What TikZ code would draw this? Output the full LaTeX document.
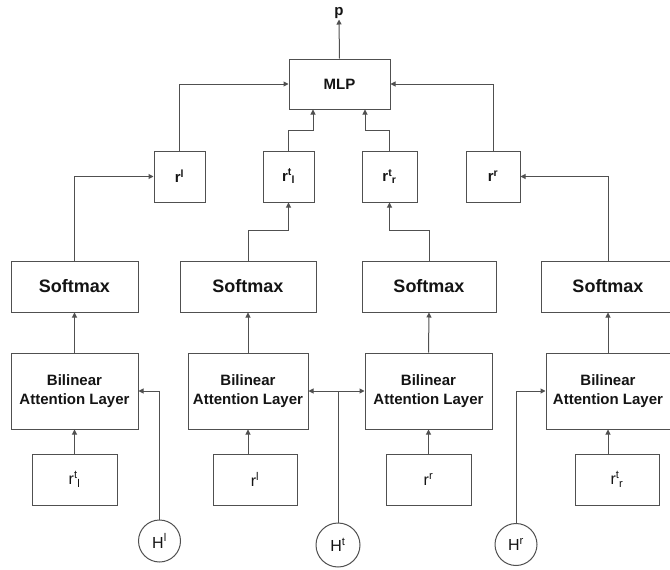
\documentclass[tikz,border=0pt]{standalone}
\usepackage{fontspec}
\setmainfont{Liberation Sans}
\usetikzlibrary{arrows.meta}
\definecolor{edge}{RGB}{80,80,80}
\definecolor{txt}{RGB}{20,20,20}
\newcommand\rsup[1]{r\textsuperscript{#1}}
\newcommand\rsupsub[2]{r\textsuperscript{#1}\kern-0.3pt\textsubscript{#2}}
\begin{document}
\begin{tikzpicture}[x=1pt,y=-1pt,
  box/.style={draw=edge,line width=1pt,fill=white,inner sep=0pt,minimum height=51pt,text=txt},
  bigbox/.style={box,minimum height=76pt,align=center,font=\fontsize{15}{19}\selectfont\bfseries},
  smbox/.style={box,font=\fontsize{18}{21}\selectfont\bfseries},
  topbox/.style={box,font=\fontsize{15}{18}\selectfont\bfseries},
  inbox/.style={box,font=\fontsize{16}{19}\selectfont},
  hcirc/.style={circle,draw=edge,line width=1pt,fill=white,inner sep=0pt,text=txt,font=\fontsize{16}{19}\selectfont},
  arr/.style={draw=edge,line width=1pt,-{Triangle[length=5pt,width=5pt]}},
  ]
\useasboundingbox (0,0) rectangle (670,570);
\clip (0,0) rectangle (670,570);
% top
\node[topbox,minimum width=101pt,minimum height=50pt] (mlp) at (339.5,84) {MLP};
\node[anchor=south,inner sep=0.5pt,font=\fontsize{15}{18}\selectfont\bfseries,text=txt] (p) at (339,19.5) {p};
\node[topbox,minimum width=51pt] (rl) at (179.5,176.5) {\rsup{l}};
\node[topbox,minimum width=51pt] (rtl) at (288.5,176.5) {\rsupsub{t}{l}};
\node[topbox,minimum width=55pt] (rtr) at (389.5,176.5) {\rsupsub{t}{r}};
\node[topbox,minimum width=54pt] (rr) at (493,176.5) {\rsup{r}};
% softmax
\node[smbox,minimum width=127pt] (s1) at (74.5,286.5) {Softmax};
\node[smbox,minimum width=136pt] (s2) at (248,286.5) {Softmax};
\node[smbox,minimum width=134pt] (s3) at (429,286.5) {Softmax};
\node[smbox,minimum width=134pt] (s4) at (608,286.5) {Softmax};
% bilinear
\node[bigbox,minimum width=127pt] (b1) at (74.5,391) {Bilinear\\Attention Layer};
\node[bigbox,minimum width=120pt] (b2) at (248,391) {Bilinear\\Attention Layer};
\node[bigbox,minimum width=127pt] (b3) at (428.5,391) {Bilinear\\Attention Layer};
\node[bigbox,minimum width=124pt] (b4) at (608,391) {Bilinear\\Attention Layer};
% inputs
\node[inbox,minimum width=85pt] (i1) at (74.5,479.5) {\rsupsub{t}{l}};
\node[inbox,minimum width=84pt] (i2) at (255,479.5) {\rsup{l}};
\node[inbox,minimum width=85pt] (i3) at (428.5,479.5) {\rsup{r}};
\node[inbox,minimum width=84pt] (i4) at (617,479.5) {\rsupsub{t}{r}};
% H circles
\node[hcirc,minimum size=42pt] (hl) at (159.5,541) {H\textsuperscript{l}};
\node[hcirc,minimum size=44pt] (ht) at (338,545) {H\textsuperscript{t}};
\node[hcirc,minimum size=42pt] (hr) at (516,544.5) {H\textsuperscript{r}};
% connectors top
\draw[arr] (mlp.north) -- (p.south);
\draw[arr] (rl.north) |- (mlp.west);
\draw[arr] (rtl.north) -- ++(0,-20.5) -| ([xshift=-26.5pt]mlp.south);
\draw[arr] (rtr.north) -- ++(0,-20.5) -| ([xshift=25.5pt]mlp.south);
\draw[arr] (rr.north) |- (mlp.east);
% softmax to r
\draw[arr] (s1.north) |- (rl.west);
\draw[arr] (s2.north) -- ++(0,-30) -| (rtl.south);
\draw[arr] (s3.north) -- ++(0,-30) -| (rtr.south);
\draw[arr] (s4.north) |- (rr.east);
% bilinear to softmax
\draw[arr] (b1.north) -- (s1.south);
\draw[arr] (b2.north) -- (s2.south);
\draw[arr] (b3.north) -- (s3.south);
\draw[arr] (b4.north) -- (s4.south);
% inputs to bilinear
\draw[arr] (i1.north) -- (b1.south);
\draw[arr] (b2.south |- i2.north) -- (b2.south);
\draw[arr] (i3.north) -- (b3.south);
\draw[arr] (b4.south |- i4.north) -- (b4.south);
% H to bilinear
\draw[arr] (hl.north) |- (b1.east);
\draw[arr] (ht.north) |- (b2.east);
\draw[arr] (ht.north) |- (b3.west);
\draw[arr] (hr.north) |- (b4.west);
\end{tikzpicture}
\end{document}
